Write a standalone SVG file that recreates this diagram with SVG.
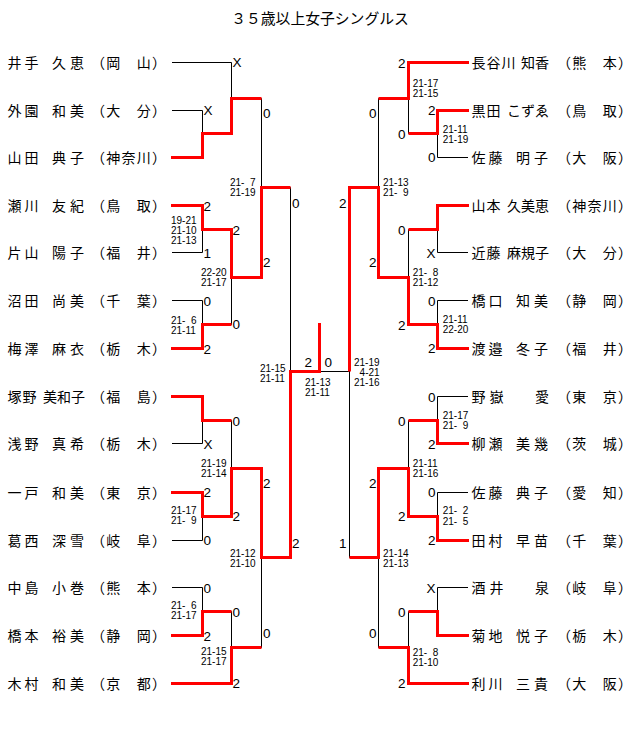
<svg xmlns="http://www.w3.org/2000/svg" width="640" height="741" viewBox="0 0 640 741">
<style>
.nm{font-family:"Noto Sans CJK JP","Noto Sans CJK SC",sans-serif;font-size:14px;fill:#000}
.ti{font-family:"Noto Sans CJK JP","Noto Sans CJK SC",sans-serif;font-size:14.8px;fill:#000}
.sc{font-family:"Liberation Sans",Arial,sans-serif;font-size:13.5px;fill:#000}
.ss{font-family:"Liberation Sans",Arial,sans-serif;font-size:10px;fill:#000}
.e{text-anchor:end}
.bk{stroke:#000;stroke-width:1;fill:none}
.rd{stroke:#f00;stroke-width:3;fill:none;stroke-linejoin:miter}
</style>
<rect width="640" height="741" fill="#fff"/>
<g id="title"><text class="ti" x="320" y="24" text-anchor="middle">３５歳以上女子シングルス</text></g>

<g id="connectors">
<path class="bk" d="M172 62.5H231.5V133.5 M172 110.5H202.5V157.5H172 M202.5 133.5H231.5 M231.5 98.5H261.5
M172 205.5H202.5V252.5H172 M202.5 229.5H231.5V324.5 M172 300.5H202.5V348.5H172 M202.5 324.5H231.5 M231.5 277.5H261.5 M261.5 98.5V277.5 M261.5 187.5H290.5V557.5
M172 396.5H202.5V443.5H172 M202.5 420.5H231.5V516.5 M172 492.5H202.5V540.5H172 M202.5 516.5H231.5 M231.5 468.5H261.5V647.5 M172 587.5H202.5V635.5H172 M202.5 611.5H231.5V683.5H172 M231.5 647.5H261.5 M261.5 557.5H290.5 M290.5 371.5H349.5
M468 62.5H408.5V133.5 M468 110.5H437.5V157.5H468 M437.5 133.5H408.5 M408.5 98.5H378.5
M468 205.5H437.5V252.5H468 M437.5 229.5H408.5V324.5 M468 300.5H437.5V348.5H468 M437.5 324.5H408.5 M408.5 277.5H378.5 M378.5 98.5V277.5 M378.5 187.5H349.5V557.5
M468 396.5H437.5V443.5H468 M437.5 420.5H408.5V516.5 M468 492.5H437.5V540.5H468 M437.5 516.5H408.5 M408.5 468.5H378.5V647.5 M468 587.5H437.5V635.5H468 M437.5 611.5H408.5V683.5H468 M408.5 647.5H378.5 M378.5 557.5H349.5"/>
<path class="rd" d="M171 157.5H202.5V133.5H231.5V98.5H261.5"/>
<path class="rd" d="M171 205.5H202.5V229.5H231.5V277.5H261.5V187.5H290.5"/>
<path class="rd" d="M171 348.5H202.5V324.5H231.5"/>
<path class="rd" d="M171 396.5H202.5V420.5H231.5"/>
<path class="rd" d="M171 492.5H202.5V516.5H231.5V468.5H261.5V557.5H290.5V371.5H319.5V323"/>
<path class="rd" d="M171 635.5H202.5V611.5H231.5"/>
<path class="rd" d="M171 683.5H231.5V647.5H261.5"/>
<path class="rd" d="M469 62.5H408.5V98.5H378.5"/>
<path class="rd" d="M469 110.5H437.5V133.5H408.5"/>
<path class="rd" d="M469 205.5H437.5V229.5H408.5"/>
<path class="rd" d="M469 348.5H437.5V324.5H408.5V277.5H378.5V187.5H349.5V371.5"/>
<path class="rd" d="M469 443.5H437.5V420.5H408.5"/>
<path class="rd" d="M469 540.5H437.5V516.5H408.5V468.5H378.5V557.5H349.5"/>
<path class="rd" d="M469 635.5H437.5V611.5H408.5"/>
<path class="rd" d="M469 683.5H408.5V647.5H378.5"/>
</g>

<g id="pL01"><text class="nm" x="7.5 24.5 38.5 52 70" y="67.5">井手 久恵</text><text class="nm" x="91 106.25 121.5 136.75 152" y="67.5">（岡　山）</text></g>
<g id="pL02"><text class="nm" x="7.5 24.5 38.5 52 70" y="115.5">外園 和美</text><text class="nm" x="91 106.25 121.5 136.75 152" y="115.5">（大　分）</text></g>
<g id="pL03"><text class="nm" x="7.5 24.5 38.5 52 70" y="162.5">山田 典子</text><text class="nm" x="91 106.25 121.5 136.75 152" y="162.5">（神奈川）</text></g>
<g id="pL04"><text class="nm" x="7.5 24.5 38.5 52 70" y="210.5">瀬川 友紀</text><text class="nm" x="91 106.25 121.5 136.75 152" y="210.5">（鳥　取）</text></g>
<g id="pL05"><text class="nm" x="7.5 24.5 38.5 52 70" y="257.5">片山 陽子</text><text class="nm" x="91 106.25 121.5 136.75 152" y="257.5">（福　井）</text></g>
<g id="pL06"><text class="nm" x="7.5 24.5 38.5 52 70" y="305.5">沼田 尚美</text><text class="nm" x="91 106.25 121.5 136.75 152" y="305.5">（千　葉）</text></g>
<g id="pL07"><text class="nm" x="7.5 24.5 38.5 52 70" y="353.5">梅澤 麻衣</text><text class="nm" x="91 106.25 121.5 136.75 152" y="353.5">（栃　木）</text></g>
<g id="pL08"><text class="nm" x="7.5 22.5 36.5 43 57 71" y="401.5">塚野 美和子</text><text class="nm" x="91 106.25 121.5 136.75 152" y="401.5">（福　島）</text></g>
<g id="pL09"><text class="nm" x="7.5 24.5 38.5 52 70" y="448.5">浅野 真希</text><text class="nm" x="91 106.25 121.5 136.75 152" y="448.5">（栃　木）</text></g>
<g id="pL10"><text class="nm" x="7.5 24.5 38.5 52 70" y="497.5">一戸 和美</text><text class="nm" x="91 106.25 121.5 136.75 152" y="497.5">（東　京）</text></g>
<g id="pL11"><text class="nm" x="7.5 24.5 38.5 52 70" y="545.5">葛西 深雪</text><text class="nm" x="91 106.25 121.5 136.75 152" y="545.5">（岐　阜）</text></g>
<g id="pL12"><text class="nm" x="7.5 24.5 38.5 52 70" y="592.5">中島 小巻</text><text class="nm" x="91 106.25 121.5 136.75 152" y="592.5">（熊　本）</text></g>
<g id="pL13"><text class="nm" x="7.5 24.5 38.5 52 70" y="640.5">橋本 裕美</text><text class="nm" x="91 106.25 121.5 136.75 152" y="640.5">（静　岡）</text></g>
<g id="pL14"><text class="nm" x="7.5 24.5 38.5 52 70" y="688.5">木村 和美</text><text class="nm" x="91 106.25 121.5 136.75 152" y="688.5">（京　都）</text></g>

<g id="pR01"><text class="nm" x="471.5 486.5 501.5 515.5 521 535" y="67.5">長谷川 知香</text><text class="nm" x="557 572.25 587.5 602.75 618" y="67.5">（熊　本）</text></g>
<g id="pR02"><text class="nm" x="471.5 486.5 500.5 507 521 535" y="115.5">黒田 こずゑ</text><text class="nm" x="557 572.25 587.5 602.75 618" y="115.5">（鳥　取）</text></g>
<g id="pR03"><text class="nm" x="471.5 488.5 502.5 516 534" y="162.5">佐藤 明子</text><text class="nm" x="557 572.25 587.5 602.75 618" y="162.5">（大　阪）</text></g>
<g id="pR04"><text class="nm" x="471.5 486.5 500.5 507 521 535" y="210.5">山本 久美恵</text><text class="nm" x="557 572.25 587.5 602.75 618" y="210.5">（神奈川）</text></g>
<g id="pR05"><text class="nm" x="471.5 486.5 500.5 507 521 535" y="257.5">近藤 麻規子</text><text class="nm" x="557 572.25 587.5 602.75 618" y="257.5">（大　分）</text></g>
<g id="pR06"><text class="nm" x="471.5 488.5 502.5 516 534" y="305.5">橋口 知美</text><text class="nm" x="557 572.25 587.5 602.75 618" y="305.5">（静　岡）</text></g>
<g id="pR07"><text class="nm" x="471.5 488.5 502.5 516 534" y="353.5">渡邉 冬子</text><text class="nm" x="557 572.25 587.5 602.75 618" y="353.5">（福　井）</text></g>
<g id="pR08"><text class="nm" x="471.5 489.5 503.5 535" y="401.5">野嶽 愛</text><text class="nm" x="557 572.25 587.5 602.75 618" y="401.5">（東　京）</text></g>
<g id="pR09"><text class="nm" x="471.5 488.5 502.5 516 534" y="448.5">柳瀬 美幾</text><text class="nm" x="557 572.25 587.5 602.75 618" y="448.5">（茨　城）</text></g>
<g id="pR10"><text class="nm" x="471.5 488.5 502.5 516 534" y="497.5">佐藤 典子</text><text class="nm" x="557 572.25 587.5 602.75 618" y="497.5">（愛　知）</text></g>
<g id="pR11"><text class="nm" x="471.5 488.5 502.5 516 534" y="545.5">田村 早苗</text><text class="nm" x="557 572.25 587.5 602.75 618" y="545.5">（千　葉）</text></g>
<g id="pR12"><text class="nm" x="471.5 489.5 503.5 535" y="592.5">酒井 泉</text><text class="nm" x="557 572.25 587.5 602.75 618" y="592.5">（岐　阜）</text></g>
<g id="pR13"><text class="nm" x="471.5 488.5 502.5 516 534" y="640.5">菊地 悦子</text><text class="nm" x="557 572.25 587.5 602.75 618" y="640.5">（栃　木）</text></g>
<g id="pR14"><text class="nm" x="471.5 488.5 502.5 516 534" y="688.5">利川 三貴</text><text class="nm" x="557 572.25 587.5 602.75 618" y="688.5">（大　阪）</text></g>

<g id="game-scores">
<text class="sc" x="232.5" y="67">X</text>
<text class="sc" x="203.5" y="115">X</text>
<text class="sc" x="263" y="118">0</text>
<text class="sc" x="203.5" y="211">2</text>
<text class="sc" x="203.5" y="257.5">1</text>
<text class="sc" x="232.5" y="235">2</text>
<text class="sc" x="263" y="267">2</text>
<text class="sc" x="203.5" y="306">0</text>
<text class="sc" x="232.5" y="329">0</text>
<text class="sc" x="203.5" y="354">2</text>
<text class="sc" x="292" y="208">0</text>
<text class="sc" x="292" y="548">2</text>
<text class="sc" x="232.5" y="425.5">0</text>
<text class="sc" x="203.5" y="449">X</text>
<text class="sc" x="263" y="488">2</text>
<text class="sc" x="203.5" y="497">2</text>
<text class="sc" x="232.5" y="520.5">2</text>
<text class="sc" x="203.5" y="545">0</text>
<text class="sc" x="203.5" y="592.5">0</text>
<text class="sc" x="232.5" y="616.5">0</text>
<text class="sc" x="263" y="637.5">0</text>
<text class="sc" x="203.5" y="641">2</text>
<text class="sc" x="232.5" y="688">2</text>
<text class="sc" x="304.5" y="367">2</text>
<text class="sc" x="324.5" y="367">0</text>
<text class="sc e" x="405.5" y="67.5">2</text>
<text class="sc e" x="376.5" y="117.5">0</text>
<text class="sc e" x="435.5" y="115">2</text>
<text class="sc e" x="405.5" y="139">0</text>
<text class="sc e" x="435.5" y="162">0</text>
<text class="sc e" x="346.5" y="208">2</text>
<text class="sc e" x="405.5" y="235">0</text>
<text class="sc e" x="435.5" y="258">X</text>
<text class="sc e" x="376.5" y="266.5">2</text>
<text class="sc e" x="435.5" y="306">0</text>
<text class="sc e" x="405.5" y="330">2</text>
<text class="sc e" x="435.5" y="353">2</text>
<text class="sc e" x="435.5" y="401.5">0</text>
<text class="sc e" x="405.5" y="426">0</text>
<text class="sc e" x="435.5" y="449">2</text>
<text class="sc e" x="376.5" y="488">2</text>
<text class="sc e" x="435.5" y="496.5">0</text>
<text class="sc e" x="405.5" y="520.5">2</text>
<text class="sc e" x="435.5" y="545">2</text>
<text class="sc e" x="346.5" y="548">1</text>
<text class="sc e" x="435.5" y="592.5">X</text>
<text class="sc e" x="405.5" y="616.5">0</text>
<text class="sc e" x="376.5" y="637.5">0</text>
<text class="sc e" x="405.5" y="688">2</text>
</g>

<g id="set-scores">
<text class="ss" x="171" y="223.5">19-21</text>
<text class="ss" x="171" y="233.5">21-10</text>
<text class="ss" x="171" y="243.5">21-13</text>
<text class="ss" x="171" y="323.5">21- <tspan x="191">6</tspan></text>
<text class="ss" x="171" y="333.5">21-11</text>
<text class="ss" x="201" y="276">22-20</text>
<text class="ss" x="201" y="286">21-17</text>
<text class="ss" x="230" y="186.3">21- <tspan x="250">7</tspan></text>
<text class="ss" x="230" y="196.3">21-19</text>
<text class="ss" x="260" y="371.7">21-15</text>
<text class="ss" x="260" y="381.7">21-11</text>
<text class="ss" x="171" y="514">21-17</text>
<text class="ss" x="171" y="524.3">21- <tspan x="191">9</tspan></text>
<text class="ss" x="201" y="466.7">21-19</text>
<text class="ss" x="201" y="476.7">21-14</text>
<text class="ss" x="230" y="556.5">21-12</text>
<text class="ss" x="230" y="566.5">21-10</text>
<text class="ss" x="171" y="609.3">21- <tspan x="191">6</tspan></text>
<text class="ss" x="171" y="619.3">21-17</text>
<text class="ss" x="201" y="655">21-15</text>
<text class="ss" x="201" y="665">21-17</text>
<text class="ss" x="305" y="386">21-13</text>
<text class="ss" x="305" y="396">21-11</text>
<text class="ss" x="412.7" y="86.7">21-17</text>
<text class="ss" x="412.7" y="96.7">21-15</text>
<text class="ss" x="442.7" y="132.7">21-11</text>
<text class="ss" x="442.7" y="142.7">21-19</text>
<text class="ss" x="383" y="186">21-13</text>
<text class="ss" x="383" y="196">21- <tspan x="403">9</tspan></text>
<text class="ss" x="412.7" y="276">21- <tspan x="432.7">8</tspan></text>
<text class="ss" x="412.7" y="286">21-12</text>
<text class="ss" x="442.7" y="323.3">21-11</text>
<text class="ss" x="442.7" y="333.3">22-20</text>
<text class="ss" x="354" y="366">21-19</text>
<text class="ss" x="359.6" y="376">4-21</text>
<text class="ss" x="354" y="386">21-16</text>
<text class="ss" x="442.7" y="419">21-17</text>
<text class="ss" x="442.7" y="429">21- <tspan x="462.7">9</tspan></text>
<text class="ss" x="412.7" y="467.3">21-11</text>
<text class="ss" x="412.7" y="477.3">21-16</text>
<text class="ss" x="442.7" y="514.3">21- <tspan x="462.7">2</tspan></text>
<text class="ss" x="442.7" y="525">21- <tspan x="462.7">5</tspan></text>
<text class="ss" x="383" y="556.5">21-14</text>
<text class="ss" x="383" y="566.5">21-13</text>
<text class="ss" x="412.7" y="656">21- <tspan x="432.7">8</tspan></text>
<text class="ss" x="412.7" y="666">21-10</text>
</g>
</svg>
